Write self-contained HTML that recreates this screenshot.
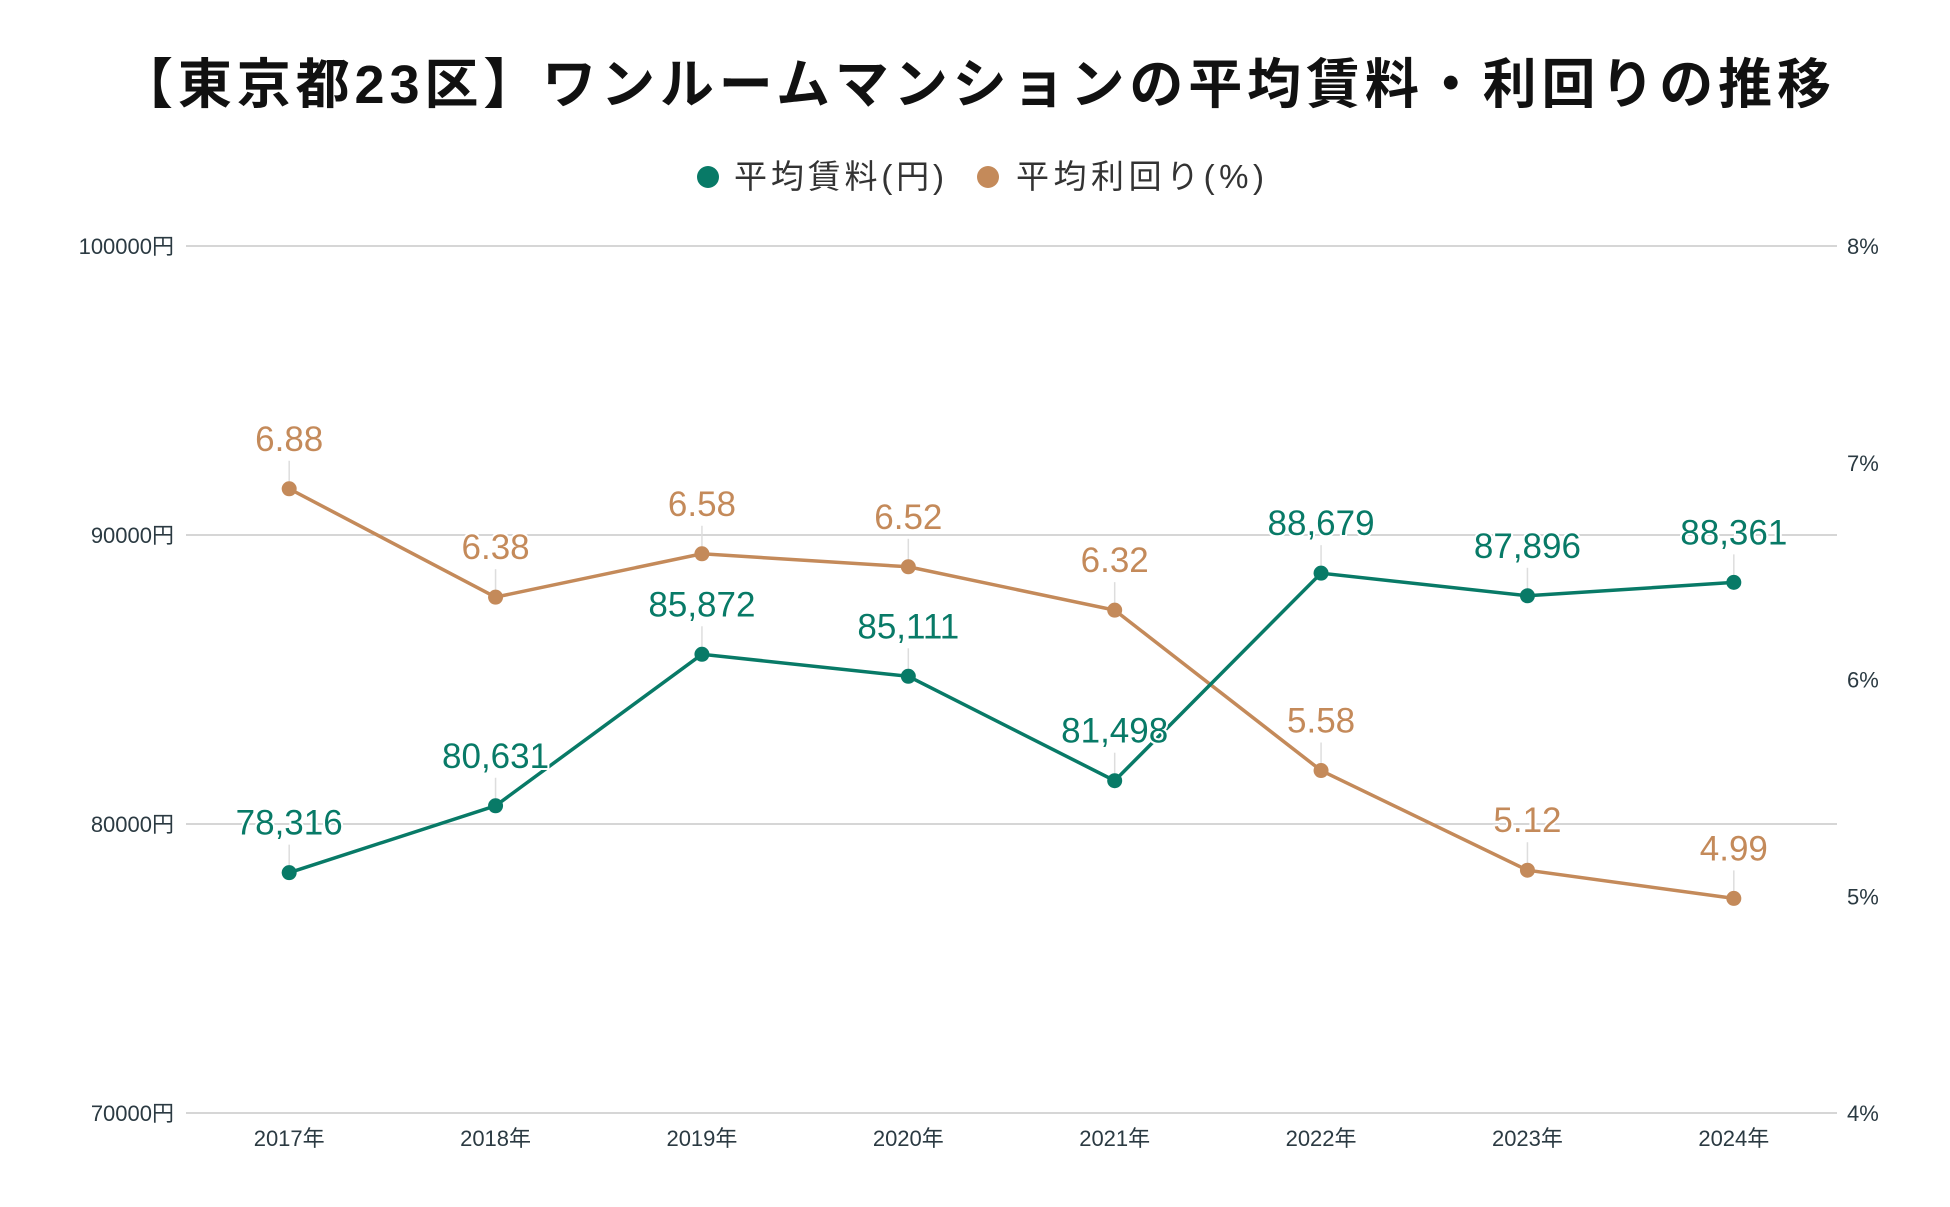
<!DOCTYPE html>
<html><head><meta charset="utf-8">
<style>
html,body{margin:0;padding:0;background:#fff;}
svg{display:block;font-family:"Liberation Sans","Noto Sans CJK JP",sans-serif;}
</style></head>
<body>
<svg id="chart" width="1950" height="1207" viewBox="0 0 1950 1207">
<text x="975" y="103" text-anchor="middle" font-size="54" font-weight="bold" fill="#111" textLength="1712" lengthAdjust="spacing">【東京都23区】ワンルームマンションの平均賃料・利回りの推移</text>
<g>
<g><circle cx="708" cy="177" r="11" fill="#087a67"/><text x="734" y="188" font-size="33" fill="#333" textLength="210" lengthAdjust="spacing">平均賃料(円)</text></g>
<g><circle cx="988" cy="177" r="11" fill="#c48a5a"/><text x="1016" y="188" font-size="33" fill="#333" textLength="248" lengthAdjust="spacing">平均利回り(%)</text></g>
</g>
<g id="grid"></g><g id="axes"></g><g id="series"></g>
</svg>
<script>
const categories=["2017年","2018年","2019年","2020年","2021年","2022年","2023年","2024年"];
const rentValues=[78316,80631,85872,85111,81498,88679,87896,88361];
const yieldValues=[6.88,6.38,6.58,6.52,6.32,5.58,5.12,4.99];
const leftTicks=[70000,80000,90000,100000];
const rightTicks=[4,5,6,7,8];
const NS="http://www.w3.org/2000/svg";
const L=186,R=1837,T=246,B=1113;
const xs=i=>L+(R-L)/categories.length*(i+0.5);
const yl=v=>B-(v-70000)/30000*(B-T);
const yr=v=>B-(v-4)/4*(B-T);
function mk(tag,attrs,parent,txt){const e=document.createElementNS(NS,tag);for(const k in attrs)e.setAttribute(k,attrs[k]);if(txt!==undefined)e.textContent=txt;parent.appendChild(e);return e;}
const grid=document.getElementById('grid'),axes=document.getElementById('axes'),series=document.getElementById('series');
leftTicks.forEach(v=>{
 const g=mk('line',{x1:L,x2:R,y1:yl(v),y2:yl(v),stroke:'#c8c8c8','stroke-width':1.5},grid);
 
 
 const t=mk('text',{x:L-12,y:yl(v)+8,'text-anchor':'end','font-size':22,fill:'#2b3a42'},axes,v+'円');
 
 
});
rightTicks.forEach(v=>{
 const t=mk('text',{x:R+10,y:yr(v)+8,'font-size':22,fill:'#2b3a42'},axes,v+'%');
 
 
});
categories.forEach((c,i)=>{
 const t=mk('text',{x:xs(i),y:B+33,'text-anchor':'middle','font-size':22,fill:'#2b3a42'},axes,c);
 
 
});
function draw(vals,yf,color,fmt,name){
 const g=mk('g',{},series);
 
 
 const p=mk('polyline',{points:vals.map((v,i)=>xs(i)+','+yf(v)).join(' '),fill:'none',stroke:color,'stroke-width':3.5},g);
 
 
 vals.forEach((v,i)=>{
  const x=xs(i),y=yf(v);
  const l=mk('line',{x1:x,x2:x,y1:y-28,y2:y,stroke:'#ddd','stroke-width':1.5},g);
  
  
  const c=mk('circle',{cx:x,cy:y,r:7.5,fill:color},g);
  
  
  const t=mk('text',{x:x,y:y-38,'text-anchor':'middle','font-size':35,fill:color,stroke:'#fff','stroke-width':4,'paint-order':'stroke'},g,fmt(v));
  
  
 });
}
draw(yieldValues,yr,'#c48a5a',v=>v.toFixed(2),'yield');
draw(rentValues,yl,'#087a67',v=>v.toLocaleString('en-US'),'rent');
</script>
</body></html>
